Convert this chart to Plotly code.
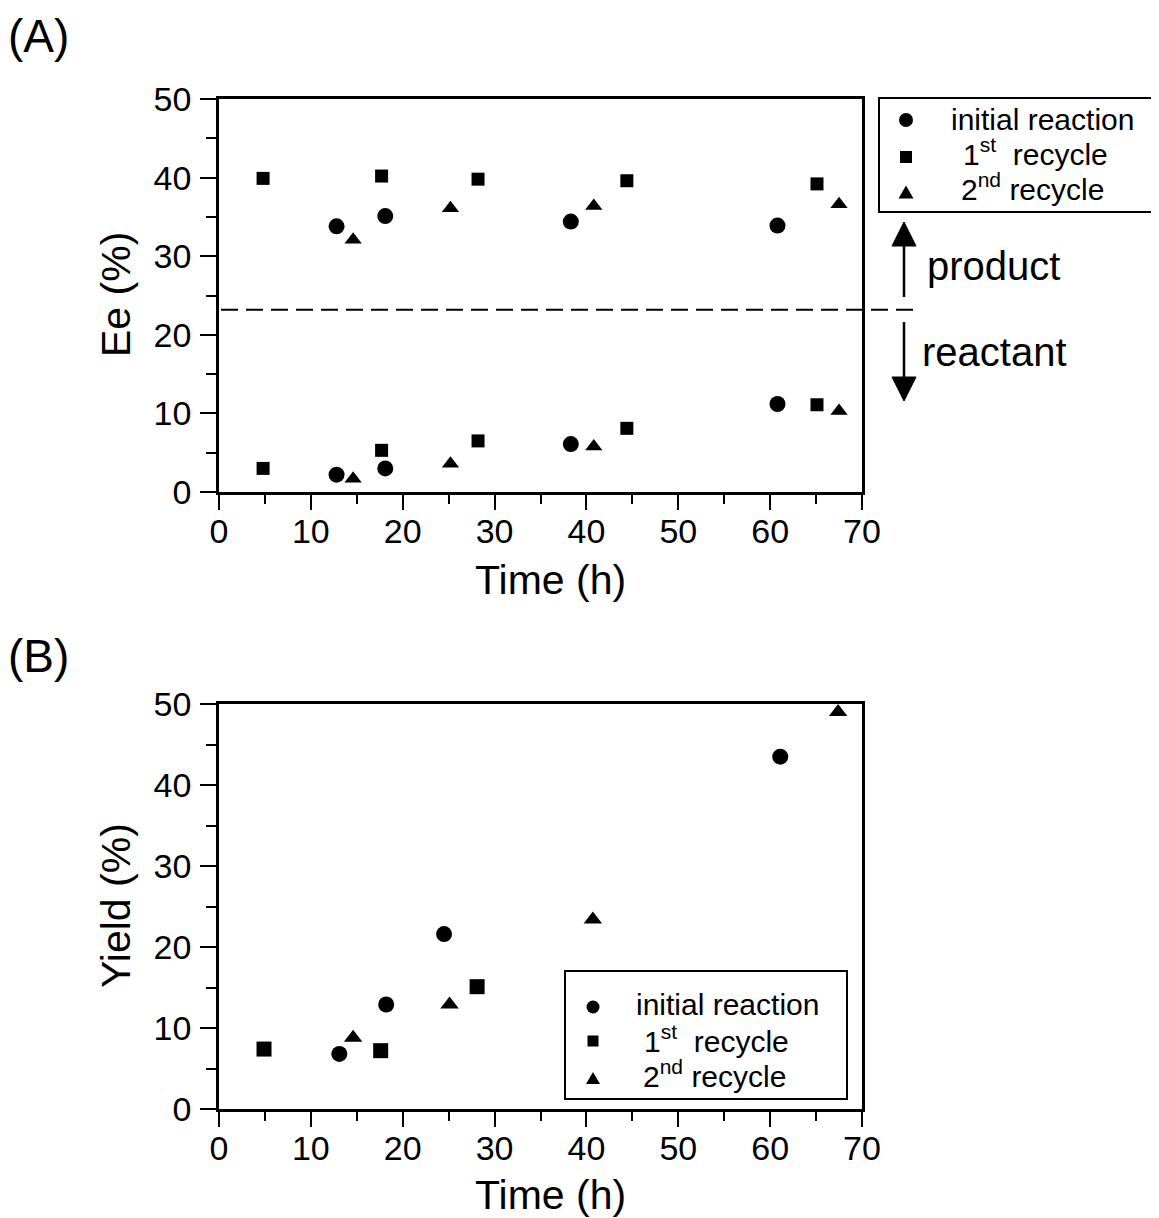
import plotly.graph_objects as go

# ---------------- data ----------------
# Panel A: enantiomeric excess (product upper cluster, reactant lower cluster)
init_time = [12.8, 18.1, 38.3, 60.8]
init_ee_product = [33.8, 35.1, 34.4, 33.9]
init_ee_reactant = [2.2, 3.0, 6.1, 11.2]

rec1_time = [4.8, 17.7, 28.2, 44.4, 65.1]
rec1_ee_product = [39.9, 40.2, 39.8, 39.6, 39.2]
rec1_ee_reactant = [3.0, 5.3, 6.5, 8.1, 11.1]

rec2_time = [14.6, 25.2, 40.8, 67.5]
rec2_ee_product = [32.1, 36.1, 36.4, 36.6]
rec2_ee_reactant = [1.7, 3.6, 5.8, 10.3]

ee_divider = 23.2

# Panel B: yield
yield_init_time = [13.1, 18.2, 24.5, 61.1]
yield_init = [6.8, 12.9, 21.6, 43.5]
yield_rec1_time = [4.9, 17.6, 28.1]
yield_rec1 = [7.4, 7.2, 15.1]
yield_rec2_time = [14.6, 25.1, 40.7, 67.4]
yield_rec2 = [8.8, 12.9, 23.4, 49.0]

series_names = ["initial reaction",
                "1<sup>st</sup>\u00a0\u00a0recycle",
                "2<sup>nd</sup> recycle"]
symbols = ["circle", "square", "triangle-up"]
x_ticks = [0, 10, 20, 30, 40, 50, 60, 70]
y_ticks = [0, 10, 20, 30, 40, 50]

# ---------------- layout helpers ----------------
W, H = 1159, 1218
OFF = 8  # page body margin in the browser
FONT = "Liberation Sans, Arial, sans-serif"


def px(xp):
    return (xp - OFF) / W


def py(yp):
    return (H - (yp - OFF)) / H


fig = go.Figure()

# Panel A traces
panelA = [
    (init_time, init_ee_product, init_ee_reactant, 16),
    (rec1_time, rec1_ee_product, rec1_ee_reactant, 13),
    (rec2_time, rec2_ee_product, rec2_ee_reactant, 15),
]
for (t, prod, react, size), name, sym in zip(panelA, series_names, symbols):
    fig.add_trace(go.Scatter(
        x=t + t, y=prod + react, mode="markers", name=name,
        marker=dict(symbol=sym, size=size, color="black"),
        xaxis="x", yaxis="y", showlegend=False, cliponaxis=False))

# Panel B traces
panelB = [
    (yield_init_time, yield_init, 16),
    (yield_rec1_time, yield_rec1, 15),
    (yield_rec2_time, yield_rec2, 16),
]
for (t, y, size), name, sym in zip(panelB, series_names, symbols):
    fig.add_trace(go.Scatter(
        x=t, y=y, mode="markers", name=name,
        marker=dict(symbol=sym, size=size, color="black"),
        xaxis="x2", yaxis="y2", showlegend=False, cliponaxis=False))

axis_common = dict(
    showline=True, linecolor="black", linewidth=2.5, mirror=True,
    ticks="outside", tickwidth=2, tickcolor="black",
    showgrid=False, zeroline=False, automargin=False,
    tickfont=dict(family=FONT, size=34, color="black"),
)
xminor = dict(dtick=5, tick0=0, ticklen=9, tickwidth=2, ticks="outside", tickcolor="black")
yminor = dict(dtick=5, tick0=0, ticklen=10, tickwidth=2, ticks="outside", tickcolor="black")
xdom = [px(219), px(862)]

fig.update_layout(
    width=W, height=H,
    margin=dict(l=0, r=0, t=0, b=0),
    paper_bgcolor="white", plot_bgcolor="white",
    font=dict(family=FONT, color="black"),
    showlegend=False,
    xaxis=dict(domain=xdom, range=[0, 70], anchor="y", tickvals=x_ticks, ticklen=15,
               ticklabelstandoff=-8, minor=xminor, **axis_common),
    yaxis=dict(domain=[py(492), py(99)], range=[0, 50], anchor="x", tickvals=y_ticks,
               ticklen=16, ticklabelstandoff=2, minor=yminor, **axis_common),
    xaxis2=dict(domain=xdom, range=[0, 70], anchor="y2", tickvals=x_ticks, ticklen=15,
                ticklabelstandoff=-8, minor=xminor, **axis_common),
    yaxis2=dict(domain=[py(1109), py(704)], range=[0, 50], anchor="x2", tickvals=y_ticks,
                ticklen=16, ticklabelstandoff=2, minor=yminor, **axis_common),
)

# dashed divider between product and reactant regions
fig.add_shape(type="line", xref="paper", yref="y", x0=px(221), x1=px(914),
              y0=ee_divider, y1=ee_divider,
              line=dict(color="black", width=2, dash="17px,8px"))

# arrows (product up, reactant down)
ax_c = 904
fig.add_shape(type="line", xref="paper", yref="paper", x0=px(ax_c), x1=px(ax_c),
              y0=py(297), y1=py(244), line=dict(color="black", width=2.5))
fig.add_shape(type="path", xref="paper", yref="paper",
              path=f"M{px(ax_c-12)},{py(246)} L{px(ax_c+12)},{py(246)} L{px(ax_c)},{py(222)} Z",
              fillcolor="black", line=dict(color="black", width=1))
fig.add_shape(type="line", xref="paper", yref="paper", x0=px(ax_c), x1=px(ax_c),
              y0=py(322), y1=py(379), line=dict(color="black", width=2.5))
fig.add_shape(type="path", xref="paper", yref="paper",
              path=f"M{px(ax_c-12)},{py(377)} L{px(ax_c+12)},{py(377)} L{px(ax_c)},{py(401)} Z",
              fillcolor="black", line=dict(color="black", width=1))


def label(text, x, y, size, xanchor="center", yanchor="middle", angle=0):
    fig.add_annotation(text=text, x=px(x), y=py(y), xref="paper", yref="paper",
                       showarrow=False, xanchor=xanchor, yanchor=yanchor, borderpad=0,
                       textangle=angle, font=dict(family=FONT, size=size, color="black"))


def legend_glyph(kind, cx, cy, s):
    h = s / 2
    if kind == "circle":
        fig.add_shape(type="circle", xref="paper", yref="paper",
                      x0=px(cx - h), x1=px(cx + h), y0=py(cy + h), y1=py(cy - h),
                      fillcolor="black", line=dict(width=0))
    elif kind == "square":
        fig.add_shape(type="rect", xref="paper", yref="paper",
                      x0=px(cx - h), x1=px(cx + h), y0=py(cy + h), y1=py(cy - h),
                      fillcolor="black", line=dict(width=0))
    else:
        th = s * 0.87
        fig.add_shape(type="path", xref="paper", yref="paper",
                      path=(f"M{px(cx - h)},{py(cy + th / 2)} L{px(cx + h)},{py(cy + th / 2)} "
                            f"L{px(cx)},{py(cy - th / 2)} Z"),
                      fillcolor="black", line=dict(width=0))


def legend_box(x0, y0, x1, y1, glyph_x, glyph_ys, glyph_sizes, text_xs, baselines, size):
    fig.add_shape(type="rect", xref="paper", yref="paper",
                  x0=px(x0), x1=px(x1), y0=py(y1), y1=py(y0),
                  fillcolor="white", line=dict(color="black", width=2))
    for sym, gy, gs, tx, bl, name in zip(symbols, glyph_ys, glyph_sizes, text_xs,
                                         baselines, series_names):
        legend_glyph(sym.replace("-up", ""), glyph_x, gy, gs)
        label(name, tx, bl + 0.212 * size, size, xanchor="left", yanchor="bottom")


legend_box(879, 98, 1155, 212, 906, [120, 157, 192], [14, 12, 15],
           [950, 962, 960], [131, 166, 201], 30)
legend_box(565, 971, 847, 1099, 593, [1007, 1041, 1078], [13, 11, 14],
           [635, 643, 642], [1016, 1053, 1088], 30)

label("product", 926, 266, 40, xanchor="left")
label("reactant", 921, 352, 40, xanchor="left")
label("(A)", 38, 36, 46)
label("(B)", 38, 656, 46)
label("Ee (%)", 116, 295, 41, angle=-90)
label("Yield (%)", 116, 906, 41, angle=-90)
label("Time (h)", 550, 580, 41)
label("Time (h)", 550, 1195, 41)

fig.write_html("out.html")
